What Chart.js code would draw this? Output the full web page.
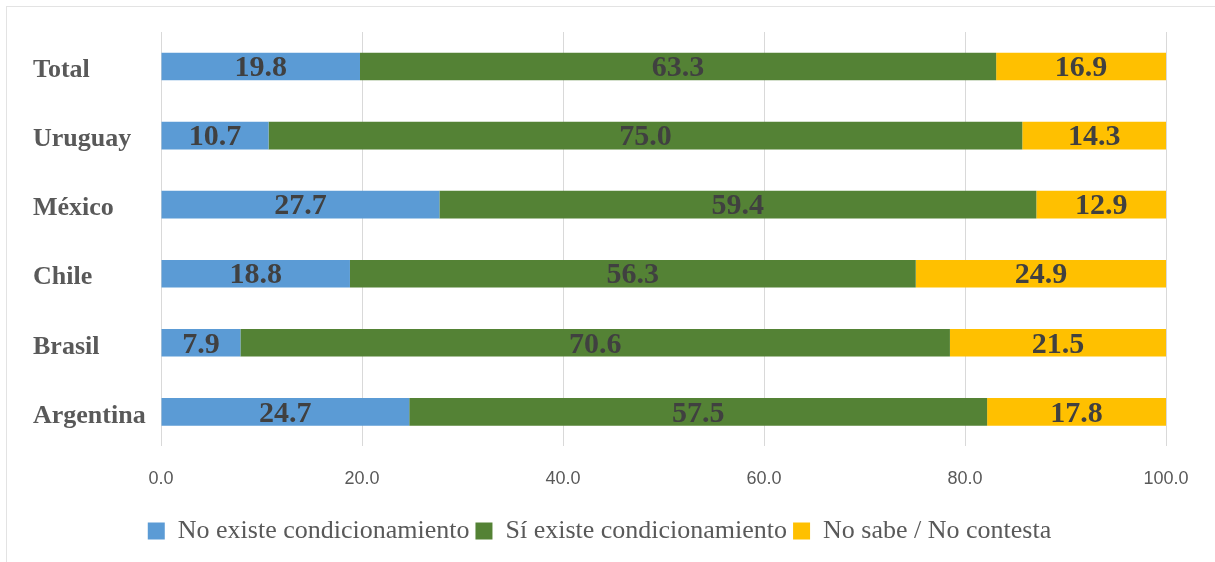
<!DOCTYPE html>
<html lang="es">
<head>
  <meta charset="UTF-8">
  <title>Condicionamiento por país</title>
  <script src="https://cdn.jsdelivr.net/npm/chart.js"></script>
  <style>
    html, body { margin: 0; padding: 0; background: #fff; overflow: hidden; }
    .marco { position: absolute; left: 6px; top: 6px; width: 1215px; height: 562px; border: 1px solid #e3e3e3; }
    .lienzo { position: absolute; left: 0; top: 0; width: 1215px; height: 562px; }
  </style>
</head>
<body>
  <div class="marco"></div>
  <div class="lienzo"><canvas id="grafico" width="1215" height="562"></canvas></div>

  <script>
    // DATOS
    const paises = ['Total', 'Uruguay', 'México', 'Chile', 'Brasil', 'Argentina'];
    const noExiste = [19.8, 10.7, 27.7, 18.8, 7.9, 24.7];
    const siExiste = [63.3, 75.0, 59.4, 56.3, 70.6, 57.5];
    const noSabe = [16.9, 14.3, 12.9, 24.9, 21.5, 17.8];
    const ticksX = [0, 20, 40, 60, 80, 100];

    // etiquetas de valor dentro de cada barra
    const etiquetasValor = {
      id: 'etiquetasValor',
      afterDatasetsDraw(chart) {
        const ctx = chart.ctx;
        ctx.save();
        ctx.font = 'bold 30px "Liberation Serif"';
        ctx.fillStyle = '#404040';
        ctx.textAlign = 'center';
        ctx.textBaseline = 'middle';
        chart.data.datasets.forEach((ds, i) => {
          chart.getDatasetMeta(i).data.forEach((bar, j) => {
            ctx.fillText(ds.data[j].toFixed(1), (bar.x + bar.base) / 2, bar.y + 2);
          });
        });
        ctx.restore();
      }
    };

    new Chart(document.getElementById('grafico'), {
      type: 'bar',
      data: {
        labels: paises,
        datasets: [
          { label: 'No existe condicionamiento', data: noExiste, backgroundColor: '#5B9BD5' },
          { label: 'Sí existe condicionamiento', data: siExiste, backgroundColor: '#548235' },
          { label: 'No sabe / No contesta', data: noSabe, backgroundColor: '#FFC000' }
        ]
      },
      options: {
        indexAxis: 'y',
        responsive: false,
        animation: false,
        categoryPercentage: 0.8,
        barPercentage: 0.5,
        layout: { padding: { top: 32, right: 49, left: 33, bottom: 8 } },
        plugins: {
          tooltip: { enabled: false },
          legend: {
            position: 'bottom',
            labels: {
              boxWidth: 17,
              boxHeight: 17,
              padding: 6,
              color: '#595959',
              font: { family: '"Liberation Serif"', size: 26 }
            }
          }
        },
        scales: {
          x: {
            stacked: true,
            min: 0,
            max: 100,
            afterBuildTicks: s => { s.ticks = ticksX.map(v => ({ value: v })); },
            grid: { color: '#d9d9d9', drawTicks: false },
            border: { display: false },
            ticks: {
              padding: 22,
              color: '#595959',
              font: { family: '"Liberation Sans"', size: 18 },
              callback: v => Number(v).toFixed(1)
            }
          },
          y: {
            stacked: true,
            afterFit: s => { s.width = 128; },
            grid: { display: false },
            border: { display: false },
            ticks: {
              crossAlign: 'far',
              padding: 15,
              labelOffset: 4,
              color: '#595959',
              font: { family: '"Liberation Serif"', size: 26, weight: 'bold' }
            }
          }
        }
      },
      plugins: [etiquetasValor]
    });
  </script>
</body>
</html>
